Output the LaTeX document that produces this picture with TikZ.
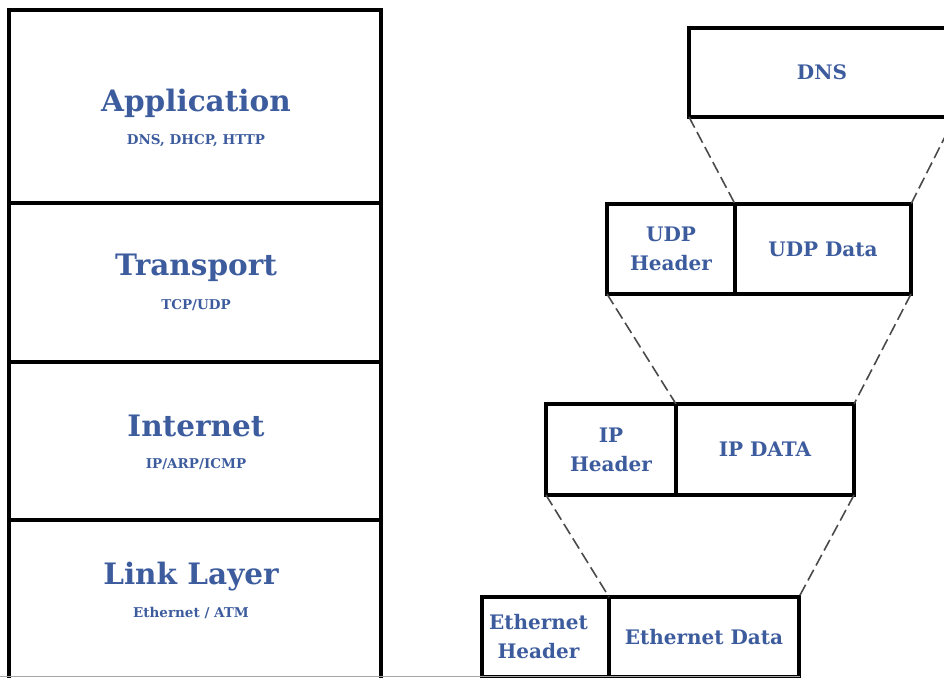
\documentclass[tikz,border=0pt]{standalone}
\usepackage{fontspec}
\setmainfont{DejaVu Serif}
\definecolor{txtblue}{HTML}{3D5C9E}
\definecolor{dashgray}{HTML}{4A4A4A}
\begin{document}
\begin{tikzpicture}[x=1pt,y=-1pt,
  cell/.style={draw=black, line width=3.5pt, inner sep=0pt, outer sep=0pt, anchor=north west,
    text=txtblue, font=\bfseries\fontsize{20}{29}\selectfont, align=center},
  layer/.style={draw=black, line width=3.5pt, inner sep=0pt, outer sep=0pt, anchor=north west,
    minimum width=372pt},
  title/.style={text=txtblue, font=\bfseries\fontsize{29.5}{32}\selectfont, inner sep=0pt},
  sub/.style={text=txtblue, font=\bfseries\fontsize{13.5}{15}\selectfont, inner sep=0pt},
  dashlink/.style={draw=dashgray, line width=1.6pt, dash pattern=on 12pt off 5pt}]
\useasboundingbox (0,0) rectangle (944,677);
\clip (0,0) rectangle (944,677);
% left stack
\node[layer, minimum height=193pt] (app) at (9,10) {};
\node[layer, minimum height=159pt] (trn) at (9,203) {};
\node[layer, minimum height=158pt] (inet) at (9,362) {};
\node[layer, minimum height=170pt] (link) at (9,520) {};
\node[title] (appt) at (196,103) {Application};
\node[sub] (apps) at (196,141) {DNS, DHCP, HTTP};
\node[title] (trnt) at (196,268) {Transport};
\node[sub] (trns) at (196,305) {TCP/UDP};
\node[title] (inett) at (196,426) {Internet};
\node[sub] (inets) at (196,464) {IP/ARP/ICMP};
\node[title] (linkt) at (191,577) {Link Layer};
\node[sub] (links) at (191,613) {Ethernet / ATM};
% right encapsulation
\node[cell, minimum width=266pt, minimum height=89pt] (dns) at (689,28) {DNS};
\node[cell, minimum width=128pt, minimum height=90pt] (udph) at (607,204) {UDP\\Header};
\node[cell, minimum width=176pt, minimum height=90pt] (udpd) at (735,204) {UDP Data};
\node[cell, minimum width=130pt, minimum height=91pt] (iph) at (546,404) {IP\\Header};
\node[cell, minimum width=178pt, minimum height=91pt] (ipd) at (676,404) {IP DATA};
\node[cell, minimum width=127pt, minimum height=80pt, text width=127pt, inner xsep=0pt] (ethh) at (482,597) {\hspace*{-14pt}Ethernet\\\hspace*{-14pt}Header};
\node[cell, minimum width=190pt, minimum height=80pt] (ethd) at (609,597) {Ethernet Data};
% dashed connectors
\draw[dashlink] (dns.south west) -- (udpd.north west);
\draw[dashlink] (dns.south east) -- (udpd.north east);
\draw[dashlink] (udph.south west) -- (ipd.north west);
\draw[dashlink] (udpd.south east) -- (ipd.north east);
\draw[dashlink] (iph.south west) -- (ethd.north west);
\draw[dashlink] (ipd.south east) -- (ethd.north east);
% faint lower border
\draw[black!35, line width=0.8pt] (0,676.6) -- (800,676.6);
\end{tikzpicture}
\end{document}
